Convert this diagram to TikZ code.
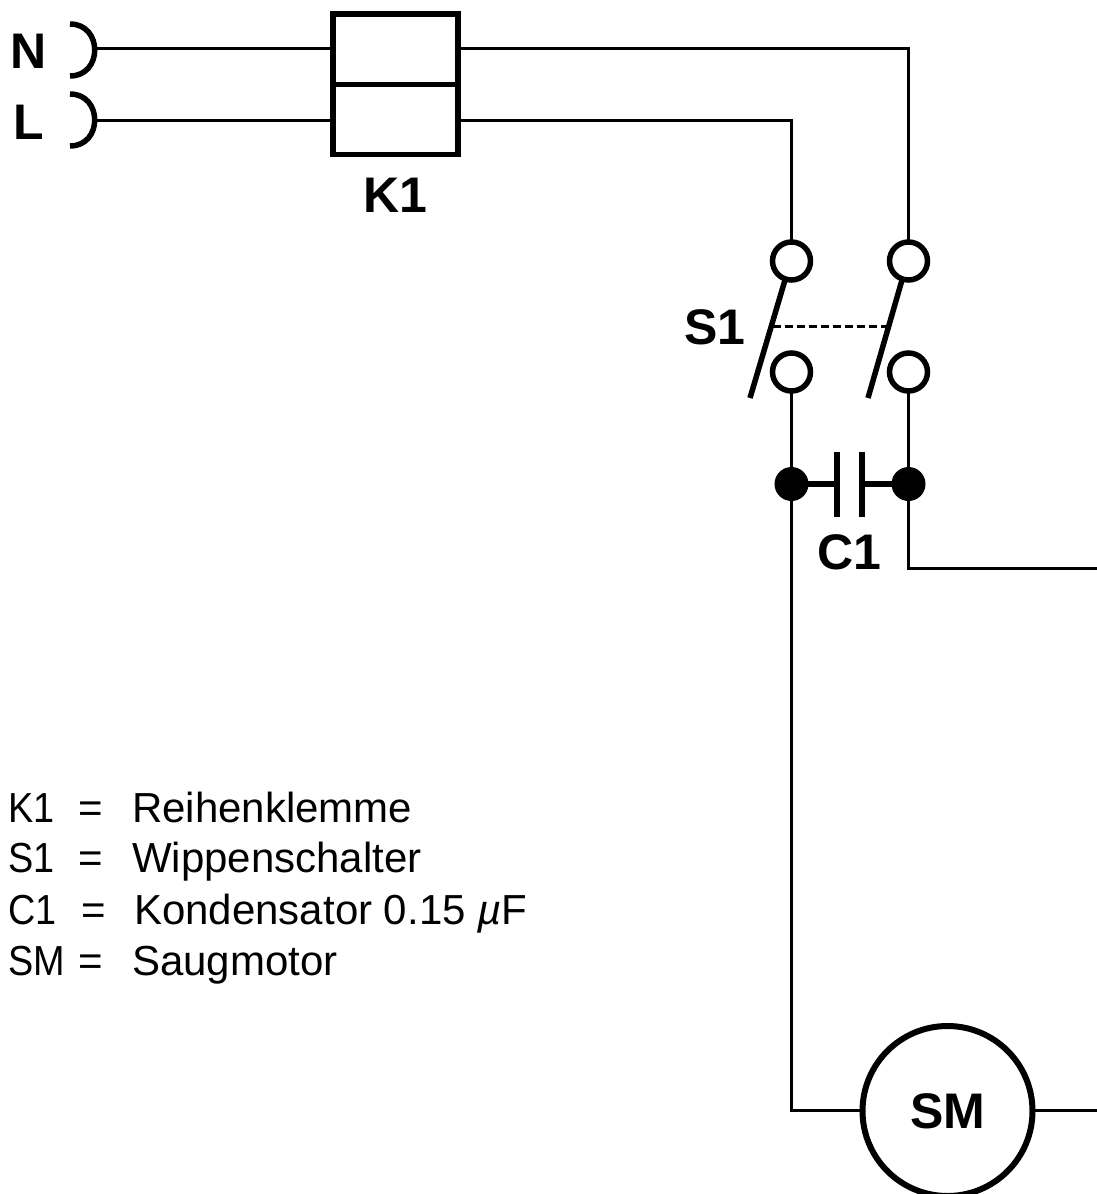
\documentclass[tikz,border=0pt]{standalone}
\usepackage{fontspec}
\setmainfont{Liberation Sans}
\newfontfamily\narrowleg[FakeStretch=0.9]{Liberation Sans}
\begin{document}
\begin{tikzpicture}[x=1pt,y=-1pt,
  wire/.style={line width=3pt,line cap=rect},
  klemme/.style={draw,line width=5.5pt,minimum width=125pt,minimum height=70.3pt,inner sep=0pt},
  term/.style={circle,draw,fill=white,line width=5.5pt,minimum size=38pt,inner sep=0pt},
  dot/.style={circle,fill=black,minimum size=34pt,inner sep=0pt},
  blade/.style={line width=5.5pt},
  plug/.style={line width=5.5pt},
  lead/.style={line width=5.5pt},
  lbl/.style={font=\fontsize{50}{50}\selectfont\bfseries,inner sep=0pt},
  leg/.style={font=\fontsize{42}{42}\selectfont,inner sep=0pt,anchor=base west},
  legs/.style={font=\fontsize{42}{42}\narrowleg\selectfont,inner sep=0pt,anchor=base west}]
\useasboundingbox (0,0) rectangle (1096,1194);
\fill[white] (0,0) rectangle (1096,1194);
\node[lbl] (N) at (29,51) {N};
\node[lbl] (L) at (29,122) {L};
\coordinate (nj) at (96,48.5);
\coordinate (lj) at (96,120);
\draw[plug] (70,24) .. controls (103,24) and (103,76) .. (70,76);
\draw[plug] (70,94) .. controls (103,94) and (103,146) .. (70,146);
\node[klemme] (k1a) at (395.5,49.3) {};
\node[klemme] (k1b) at (395.5,119.5) {};
\node[lbl] (K1) at (395,195) {K1};
\node[term] (t1) at (791.5,261) {};
\node[term] (t2) at (908.5,261) {};
\node[term] (t3) at (791.5,372) {};
\node[term] (t4) at (908.5,372) {};
\node[dot] (d1) at (791.5,484) {};
\node[dot] (d2) at (908.5,484) {};
\coordinate (c1a) at (837,484);
\coordinate (c1b) at (862,484);
\node[circle,draw,line width=6pt,minimum size=170pt,inner sep=0pt,font=\fontsize{50}{50}\selectfont\bfseries] (SM) at (947.5,1111) {SM};
\coordinate (re2) at (1096,1110);
\draw[wire] (nj) -- (k1a.west |- nj);
\draw[wire] (lj) -- (k1b.west |- lj);
\draw[wire] (k1a.east |- nj) -| (t2.north);
\draw[wire] (k1b.east |- lj) -| (t1.north);
\draw[wire] (t3.south) -- (d1.center);
\draw[wire] (t4.south) -- (d2.center);
\coordinate (re) at (1096,568);
\draw[wire] (d2.center) |- (re);
\draw[wire] (d1.center) |- (SM.west |- re2);
\draw[wire] (SM.east |- re2) -- (re2);
\draw[lead] (d1.center) -- (c1a);
\draw[lead] (d2.center) -- (c1b);
\draw[lead] (837,452) -- (837,517);
\draw[lead] (862,452) -- (862,517);
\node[lbl] (C1) at (849,552) {C1};
\node[lbl] (S1) at (715,327) {S1};
\draw[blade] (785,280) -- (750,398);
\draw[blade] (902,280) -- (868,398);
\draw[line width=3pt,dash pattern=on 8pt off 4pt] (773,326) -- (888,326);
\node[legs] (l1) at (8,822) {K1};
\node[leg] (l1e) at (78,822) {=};
\node[leg] (l1t) at (132,822) {Reihenklemme};
\node[legs] (l2) at (8,872) {S1};
\node[leg] (l2e) at (78,872) {=};
\node[leg] (l2t) at (132,872) {Wippenschalter};
\node[legs] (l3) at (8,924) {C1};
\node[leg] (l3e) at (81,924) {=};
\node[leg] (l3t) at (134,924) {Kondensator 0.15 \textit{µ}F};
\node[legs] (l4) at (8,975) {SM};
\node[leg] (l4e) at (78,975) {=};
\node[leg] (l4t) at (132,975) {Saugmotor};
\end{tikzpicture}
\end{document}
